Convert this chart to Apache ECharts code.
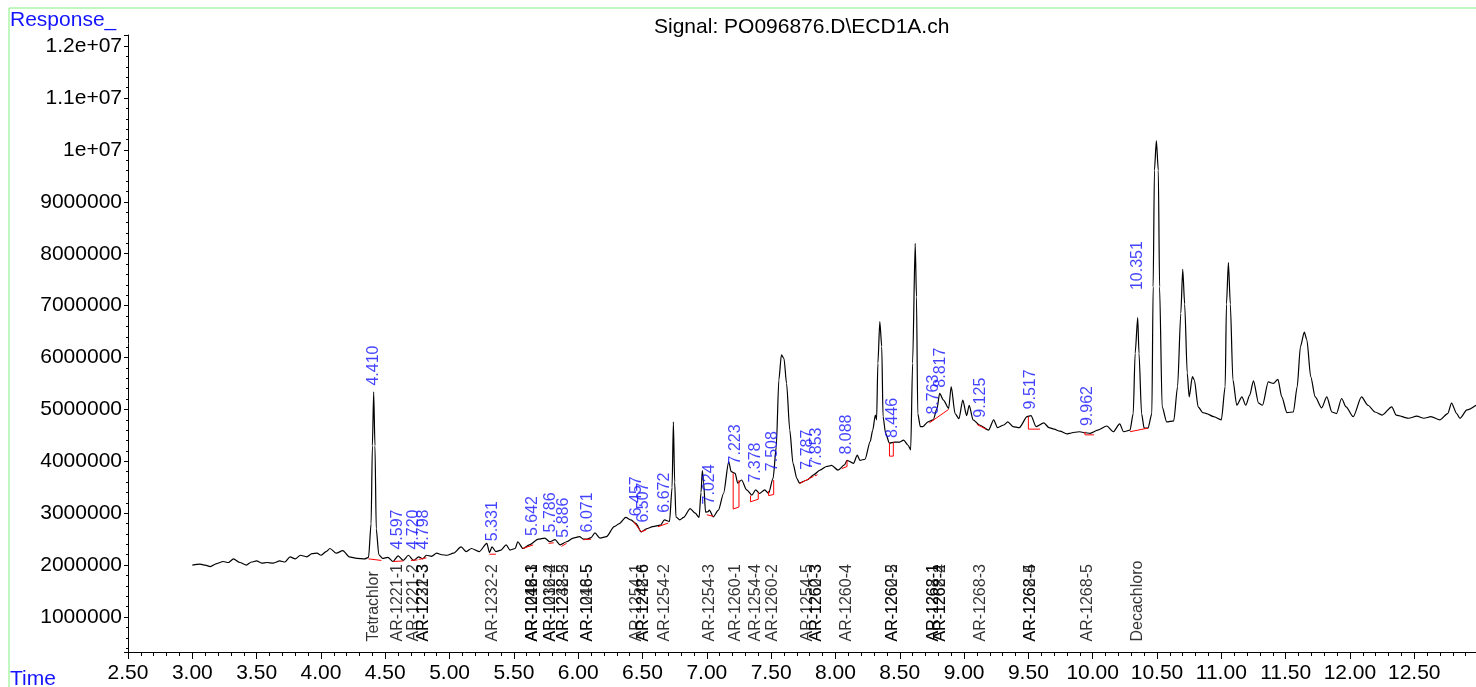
<!DOCTYPE html>
<html>
<head>
<meta charset="utf-8">
<title>Signal: PO096876.D\ECD1A.ch</title>
<script src="https://cdn.jsdelivr.net/npm/echarts@6/dist/echarts.min.js"></script>
<style>
  html, body { margin: 0; padding: 0; background: #fff; }
  #chart { width: 1476px; height: 687px; }
</style>
</head>
<body>
<div id="chart"></div>
<script>
// retention time (min) of the traced ECD signal
const times = [
  3.00, 3.06, 3.10, 3.14, 3.19, 3.24, 3.28, 3.32, 3.37, 3.42, 3.46, 3.50, 3.54, 3.58, 3.63, 3.68,
  3.72, 3.76, 3.80, 3.84, 3.89, 3.93, 3.97, 4.00, 4.04, 4.07, 4.12, 4.17, 4.22, 4.28, 4.34, 4.37,
  4.39, 4.40, 4.41, 4.42, 4.43, 4.45, 4.48, 4.52, 4.56, 4.60, 4.64, 4.68, 4.72, 4.76, 4.79, 4.82,
  4.86, 4.90, 4.94, 4.98, 5.03, 5.09, 5.13, 5.17, 5.23, 5.29, 5.31, 5.33, 5.36, 5.40, 5.44, 5.47,
  5.51, 5.53, 5.57, 5.62, 5.69, 5.74, 5.78, 5.82, 5.86, 5.91, 5.96, 6.01, 6.04, 6.07, 6.10, 6.13,
  6.17, 6.22, 6.28, 6.32, 6.37, 6.41, 6.45, 6.49, 6.53, 6.58, 6.64, 6.67, 6.71, 6.73, 6.74, 6.75,
  6.76, 6.79, 6.82, 6.87, 6.91, 6.94, 6.955, 6.965, 6.975, 6.99, 7.01, 7.02, 7.05, 7.09, 7.13, 7.17,
  7.19, 7.22, 7.24, 7.27, 7.31, 7.35, 7.38, 7.41, 7.45, 7.48, 7.515, 7.54, 7.56, 7.58, 7.60, 7.62,
  7.645, 7.67, 7.70, 7.72, 7.78, 7.83, 7.88, 7.93, 7.97, 8.02, 8.07, 8.09, 8.14, 8.17, 8.19, 8.23,
  8.27, 8.29, 8.31, 8.32, 8.33, 8.345, 8.36, 8.37, 8.39, 8.42, 8.46, 8.50, 8.53, 8.565, 8.585, 8.60,
  8.62, 8.63, 8.64, 8.66, 8.68, 8.72, 8.76, 8.79, 8.81, 8.84, 8.88, 8.90, 8.93, 8.96, 8.99, 9.02,
  9.04, 9.07, 9.12, 9.19, 9.23, 9.26, 9.31, 9.34, 9.38, 9.43, 9.49, 9.52, 9.56, 9.62, 9.66, 9.70,
  9.745, 9.80, 9.82, 9.86, 9.90, 9.94, 9.98, 10.04, 10.11, 10.16, 10.21, 10.24, 10.29, 10.315, 10.33, 10.35,
  10.36, 10.38, 10.40, 10.43, 10.46, 10.47, 10.48, 10.495, 10.51, 10.52, 10.54, 10.575, 10.63, 10.66, 10.685, 10.70,
  10.715, 10.735, 10.75, 10.775, 10.79, 10.82, 10.855, 10.885, 10.94, 11.00, 11.03, 11.04, 11.055, 11.07, 11.09, 11.12,
  11.16, 11.19, 11.22, 11.25, 11.29, 11.32, 11.365, 11.405, 11.44, 11.47, 11.51, 11.56, 11.59, 11.615, 11.645, 11.665,
  11.695, 11.73, 11.78, 11.82, 11.86, 11.895, 11.935, 11.97, 12.025, 12.09, 12.14, 12.195, 12.25, 12.325, 12.36, 12.455,
  12.52, 12.575, 12.63, 12.70, 12.76, 12.79, 12.83, 12.855, 12.91, 12.98
];
// detector response at those times
const response = [
  2.00e6, 2.02e6, 2.00e6, 1.97e6, 2.03e6, 2.07e6, 2.05e6, 2.12e6, 2.05e6, 2.00e6, 2.06e6, 2.08e6, 2.04e6, 2.05e6, 2.04e6, 2.08e6,
  2.06e6, 2.16e6, 2.12e6, 2.19e6, 2.16e6, 2.22e6, 2.23e6, 2.19e6, 2.26e6, 2.32e6, 2.23e6, 2.28e6, 2.16e6, 2.13e6, 2.12e6, 2.15e6,
  2.80e6, 4.30e6, 5.34e6, 4.30e6, 2.70e6, 2.20e6, 2.13e6, 2.15e6, 2.07e6, 2.18e6, 2.09e6, 2.19e6, 2.09e6, 2.16e6, 2.12e6, 2.19e6,
  2.17e6, 2.23e6, 2.20e6, 2.19e6, 2.23e6, 2.35e6, 2.26e6, 2.32e6, 2.26e6, 2.42e6, 2.24e6, 2.35e6, 2.26e6, 2.29e6, 2.39e6, 2.29e6,
  2.32e6, 2.45e6, 2.32e6, 2.39e6, 2.50e6, 2.52e6, 2.45e6, 2.49e6, 2.39e6, 2.45e6, 2.52e6, 2.55e6, 2.50e6, 2.50e6, 2.53e6, 2.62e6,
  2.52e6, 2.55e6, 2.74e6, 2.80e6, 2.92e6, 2.87e6, 2.80e6, 2.64e6, 2.70e6, 2.74e6, 2.77e6, 2.87e6, 2.84e6, 3.50e6, 4.76e6, 3.60e6,
  2.93e6, 2.87e6, 2.92e6, 3.09e6, 3.00e6, 2.92e6, 3.40e6, 3.82e6, 3.60e6, 3.02e6, 3.03e6, 3.06e6, 2.93e6, 3.06e6, 3.38e6, 3.99e6,
  3.80e6, 3.77e6, 3.58e6, 3.64e6, 3.45e6, 3.35e6, 3.45e6, 3.38e6, 3.45e6, 3.38e6, 3.67e6, 4.28e6, 5.57e6, 6.05e6, 5.98e6, 5.50e6,
  4.60e6, 3.96e6, 3.67e6, 3.58e6, 3.64e6, 3.74e6, 3.83e6, 3.90e6, 3.92e6, 3.83e6, 3.93e6, 4.02e6, 3.96e6, 4.12e6, 4.02e6, 4.04e6,
  4.38e6, 4.60e6, 4.89e6, 4.80e6, 5.89e6, 6.69e6, 6.21e6, 4.86e6, 4.54e6, 4.35e6, 4.37e6, 4.37e6, 4.41e6, 4.31e6, 4.22e6, 5.89e6,
  8.20e6, 7.17e6, 4.92e6, 4.67e6, 4.67e6, 4.76e6, 4.80e6, 5.02e6, 5.31e6, 5.18e6, 5.02e6, 5.44e6, 4.92e6, 4.82e6, 5.18e6, 4.88e6,
  5.08e6, 4.80e6, 4.70e6, 4.60e6, 4.80e6, 4.65e6, 4.70e6, 4.76e6, 4.67e6, 4.65e6, 4.86e6, 4.88e6, 4.67e6, 4.74e6, 4.65e6, 4.62e6,
  4.58e6, 4.53e6, 4.54e6, 4.56e6, 4.57e6, 4.55e6, 4.54e6, 4.60e6, 4.68e6, 4.57e6, 4.72e6, 4.57e6, 4.60e6, 4.92e6, 6.08e6, 6.77e6,
  6.08e6, 4.92e6, 4.64e6, 4.64e6, 4.92e6, 7.36e6, 9.61e6, 10.18e6, 9.61e6, 7.36e6, 5.05e6, 4.76e6, 4.78e6, 5.44e6, 6.85e6, 7.70e6,
  7.03e6, 5.70e6, 5.24e6, 5.63e6, 5.57e6, 5.05e6, 4.94e6, 4.92e6, 4.86e6, 4.80e6, 5.44e6, 7.03e6, 7.83e6, 7.03e6, 5.57e6, 5.08e6,
  5.24e6, 5.08e6, 5.27e6, 5.55e6, 5.12e6, 5.08e6, 5.53e6, 5.50e6, 5.58e6, 5.24e6, 4.94e6, 4.95e6, 5.44e6, 6.21e6, 6.49e6, 6.34e6,
  5.63e6, 5.24e6, 5.03e6, 5.24e6, 4.95e6, 4.92e6, 5.21e6, 5.05e6, 4.86e6, 5.24e6, 5.08e6, 4.95e6, 4.89e6, 5.05e6, 4.89e6, 4.83e6,
  4.87e6, 4.83e6, 4.86e6, 4.80e6, 4.92e6, 5.12e6, 4.92e6, 4.83e6, 4.99e6, 5.08e6
];

// integrated peaks: retention time label and the response where the label starts
const peakTimes = ['4.410', '4.597', '4.720', '4.798', '5.331', '5.642', '5.786', '5.886', '6.071', '6.457', '6.507', '6.672', '7.024',
  '7.223', '7.378', '7.508', '7.787', '7.853', '8.088', '8.446', '8.763', '8.817', '9.125', '9.517', '9.962', '10.351'];
const peakLabelTops = [5.45e6, 2.29e6, 2.29e6, 2.29e6, 2.45e6, 2.55e6, 2.62e6, 2.52e6, 2.62e6, 2.93e6, 2.81e6, 3.00e6, 3.16e6,
  3.93e6, 3.58e6, 3.80e6, 3.83e6, 3.87e6, 4.12e6, 4.44e6, 4.89e6, 5.41e6, 4.83e6, 4.99e6, 4.67e6, 7.29e6];

// integration baselines (red), one polyline per peak
const baselines = [
  [[4.37, 2.12e6], [4.47, 2.09e6]],
  [[4.56, 2.07e6], [4.64, 2.08e6]],
  [[4.70, 2.09e6], [4.75, 2.10e6]],
  [[4.76, 2.11e6], [4.82, 2.14e6]],
  [[5.31, 2.21e6], [5.36, 2.21e6]],
  [[5.57, 2.32e6], [5.65, 2.39e6]],
  [[5.77, 2.42e6], [5.81, 2.43e6]],
  [[5.87, 2.36e6], [5.91, 2.42e6]],
  [[6.04, 2.49e6], [6.10, 2.50e6]],
  [[6.43, 2.84e6], [6.49, 2.64e6], [6.53, 2.68e6]],
  [[6.62, 2.74e6], [6.70, 2.81e6]],
  [[7.00, 2.97e6], [7.05, 2.94e6]],
  [[7.205, 3.77e6], [7.205, 3.08e6], [7.25, 3.12e6], [7.25, 3.64e6]],
  [[7.34, 3.34e6], [7.34, 3.22e6], [7.40, 3.27e6], [7.40, 3.40e6]],
  [[7.48, 3.43e6], [7.48, 3.34e6], [7.52, 3.36e6], [7.52, 3.64e6]],
  [[7.72, 3.57e6], [7.83, 3.71e6]],
  [[7.84, 3.72e6], [7.86, 3.74e6]],
  [[8.05, 3.86e6], [8.09, 3.90e6], [8.09, 4.02e6]],
  [[8.42, 4.35e6], [8.42, 4.10e6], [8.45, 4.10e6], [8.45, 4.37e6]],
  [[8.73, 4.74e6], [8.88, 5.00e6]],
  [[9.10, 4.71e6], [9.17, 4.62e6]],
  [[9.50, 4.86e6], [9.50, 4.62e6], [9.59, 4.62e6]],
  [[9.94, 4.57e6], [9.94, 4.51e6], [10.01, 4.51e6]],
  [[10.29, 4.57e6], [10.43, 4.64e6]]
];

// compound names printed along the time axis
const compoundNames = ['Tetrachlor', 'AR-1221-1', 'AR-1221-2', 'AR-1221-3', 'AR-1232-3', 'AR-1232-2',
  'AR-1016-1', 'AR-1242-1', 'AR-1248-3', 'AR-1016-2', 'AR-1232-4', 'AR-1232-5', 'AR-1248-2',
  'AR-1016-5', 'AR-1248-5', 'AR-1254-1', 'AR-1242-6', 'AR-1248-6', 'AR-1254-2', 'AR-1254-3',
  'AR-1260-1', 'AR-1254-4', 'AR-1260-2', 'AR-1254-5', 'AR-1260-3', 'AR-1262-3', 'AR-1260-4',
  'AR-1260-5', 'AR-1262-2', 'AR-1268-1', 'AR-1262-1', 'AR-1268-2', 'AR-1262-4', 'AR-1268-3',
  'AR-1262-5', 'AR-1268-4', 'AR-1268-5', 'Decachloro'];
const compoundTimes = [4.410, 4.597, 4.720, 4.798, 4.800, 5.331,
  5.642, 5.642, 5.644, 5.786, 5.786, 5.886, 5.888,
  6.071, 6.073, 6.457, 6.507, 6.509, 6.672, 7.024,
  7.223, 7.378, 7.508, 7.787, 7.853, 7.855, 8.088,
  8.446, 8.448, 8.763, 8.765, 8.817, 8.819, 9.125,
  9.517, 9.519, 9.962, 10.351];

const yMin = 326000;
const yMax = 12214000;
const font = 'Liberation Sans, Arial, sans-serif';

const chart = echarts.init(document.getElementById('chart'), null, { renderer: 'canvas' });

const option = {
  animation: false,
  backgroundColor: '#fff',
  title: {
    text: 'Signal: PO096876.D\\ECD1A.ch',
    left: 649,
    top: 12,
    textStyle: { fontFamily: font, fontSize: 21, fontWeight: 'normal', color: '#000' }
  },
  graphic: [
    {
      type: 'rect',
      shape: { x: 9, y: 8, width: 1600, height: 800 },
      style: { fill: 'none', stroke: '#80f080', lineWidth: 1 },
      silent: true
    },
    {
      type: 'text', left: 10, top: 10,
      style: { text: 'Response_', fill: '#1414ff', font: '21px ' + font }
    },
    {
      type: 'text', left: 10, top: 669,
      style: { text: 'Time', fill: '#1414ff', font: '21px ' + font }
    }
  ],
  grid: {
    left: 128,
    right: 0,
    top: 35,
    bottom: 35,
    containLabel: false,
    outerBoundsMode: 'none'
  },
  xAxis: {
    type: 'value',
    min: 2.5,
    max: 12.98,
    interval: 0.5,
    splitLine: { show: false },
    axisLine: { lineStyle: { color: '#000', width: 1 } },
    axisTick: { length: 7, lineStyle: { color: '#000' } },
    minorTick: { show: true, splitNumber: 5, length: 4, lineStyle: { color: '#000' } },
    axisLabel: {
      color: '#000',
      fontFamily: font,
      fontSize: 21,
      margin: 11,
      showMaxLabel: false,
      formatter: v => (Math.abs(v * 2 - Math.round(v * 2)) > 1e-6 ? '' : v.toFixed(2))
    }
  },
  yAxis: {
    type: 'value',
    min: yMin,
    max: yMax,
    splitNumber: 11,
    splitLine: { show: false },
    axisLine: { show: true, lineStyle: { color: '#000', width: 1 } },
    axisTick: { show: true, length: 4, lineStyle: { color: '#000' } },
    minorTick: { show: true, splitNumber: 5, length: 2, lineStyle: { color: '#000' } },
    axisLabel: {
      color: '#000',
      fontFamily: font,
      fontSize: 21,
      margin: 6,
      formatter: v => {
        if (v % 1e6 !== 0) return '';
        if (v >= 1e7) return (v / 1e7) + 'e+07';
        return String(v);
      }
    }
  },
  series: [
    {
      name: 'ECD1A',
      type: 'line',
      data: times.map((t, i) => [t, response[i]]),
      showSymbol: false,
      smooth: 0.25,
      smoothMonotone: 'x',
      lineStyle: { color: '#000', width: 1.2 },
      z: 3
    },
    {
      name: 'baselines',
      type: 'lines',
      coordinateSystem: 'cartesian2d',
      polyline: true,
      data: baselines.map(seg => ({ coords: seg })),
      lineStyle: { color: '#ff0000', width: 1, opacity: 1 },
      z: 4
    },
    {
      name: 'retention times',
      type: 'scatter',
      symbolSize: 1,
      itemStyle: { color: 'rgba(0,0,0,0)' },
      data: peakTimes.map((s, i) => [parseFloat(s), peakLabelTops[i]]),
      label: {
        show: true,
        position: 'top',
        distance: 0,
        rotate: 90,
        align: 'left',
        verticalAlign: 'middle',
        fontFamily: font,
        fontSize: 16,
        color: '#1414ff',
        formatter: p => peakTimes[p.dataIndex]
      },
      z: 5
    },
    {
      name: 'compounds',
      type: 'scatter',
      symbolSize: 1,
      itemStyle: { color: 'rgba(0,0,0,0)' },
      data: compoundTimes.map(t => [t, yMin]),
      label: {
        show: true,
        position: 'top',
        distance: 10,
        rotate: 90,
        align: 'left',
        verticalAlign: 'middle',
        fontFamily: font,
        fontSize: 16,
        color: '#000',
        formatter: p => compoundNames[p.dataIndex]
      },
      z: 5
    }
  ]
};

chart.setOption(option);
</script>
</body>
</html>
